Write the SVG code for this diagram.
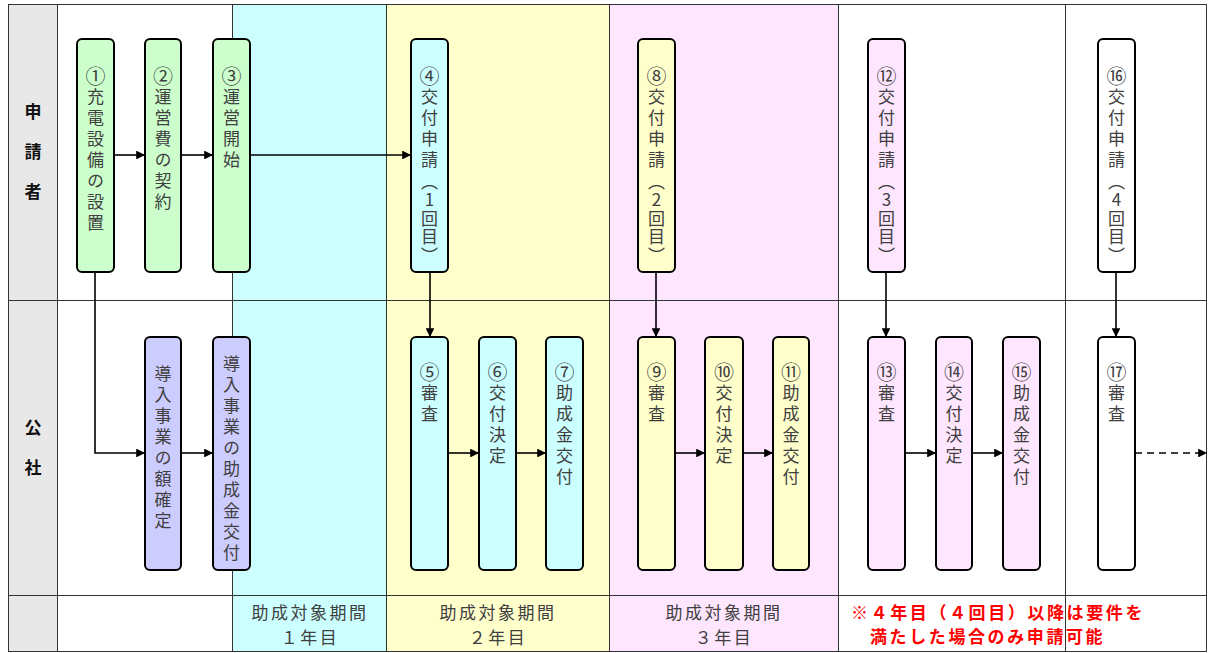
<svg xmlns="http://www.w3.org/2000/svg" width="1208" height="653" viewBox="0 0 1208 653">
<style>
.grid{stroke:#333;stroke-width:1;fill:none}
.node{stroke:#000;stroke-width:2}
.g{fill:#ccffcc}.p{fill:#ccccff}.c{fill:#ccffff}.y{fill:#ffffcc}.k{fill:#ffe6ff}.w{fill:#ffffff}
.vt{font-family:"Noto Sans CJK JP","Noto Sans",sans-serif;font-size:17px;fill:#404040;writing-mode:vertical-rl;text-orientation:upright;letter-spacing:4px}
.cn{font-size:20px;letter-spacing:2.5px}
.pr{letter-spacing:1.5px}
.lane{font-family:"Noto Sans CJK JP",sans-serif;font-size:17px;font-weight:bold;fill:#111;text-anchor:middle}
.per{font-family:"Noto Sans CJK JP",sans-serif;font-size:17px;fill:#404040;text-anchor:middle;letter-spacing:2.5px}
.note{font-family:"Noto Sans CJK JP",sans-serif;font-size:17px;font-weight:bold;fill:#ff0000;letter-spacing:2.6px}
.ln{stroke:#000;stroke-width:1.6;fill:none}
</style>
<defs>
<marker id="ah" viewBox="0 0 10 10" refX="10" refY="5" markerWidth="5.5" markerHeight="5.5" orient="auto" markerUnits="strokeWidth"><path d="M0,0 L10,5 L0,10 z" fill="#000"/></marker>
</defs>
<g id="background">
<rect x="8" y="4" width="1199" height="648" fill="#fff"/>
<rect x="8" y="4" width="49" height="648" fill="#e8e8e8"/>
<rect x="232" y="4" width="154" height="648" fill="#ccffff"/>
<rect x="386" y="4" width="223" height="648" fill="#ffffcc"/>
<rect x="609" y="4" width="229" height="648" fill="#ffe6ff"/>
</g>
<g id="grid">
<rect class="grid" x="8.5" y="4.5" width="1198" height="647"/>
<path class="grid" d="M57.5,4 V652 M232.5,4 V652 M386.5,4 V652 M609.5,4 V652 M838.5,4 V652 M1065.5,4 V652 M8,300.5 H1207 M8,595.5 H1207"/>
</g>
<g id="lanes">
<text class="lane" x="33" y="118">申</text>
<text class="lane" x="33" y="158">請</text>
<text class="lane" x="33" y="198">者</text>
<text class="lane" x="33" y="434">公</text>
<text class="lane" x="33" y="474">社</text>
</g>
<g id="connectors">
<path class="ln" d="M114,155 H145" marker-end="url(#ah)"/>
<path class="ln" d="M181,155 H213" marker-end="url(#ah)"/>
<path class="ln" d="M250,155 H411" marker-end="url(#ah)"/>
<path class="ln" d="M95,272 V453 H145" marker-end="url(#ah)"/>
<path class="ln" d="M181,453 H213" marker-end="url(#ah)"/>
<path class="ln" d="M430,272 V337" marker-end="url(#ah)"/>
<path class="ln" d="M448,453 H479" marker-end="url(#ah)"/>
<path class="ln" d="M516,453 H546" marker-end="url(#ah)"/>
<path class="ln" d="M656,272 V337" marker-end="url(#ah)"/>
<path class="ln" d="M675,453 H705" marker-end="url(#ah)"/>
<path class="ln" d="M743,453 H773" marker-end="url(#ah)"/>
<path class="ln" d="M886,272 V337" marker-end="url(#ah)"/>
<path class="ln" d="M905,453 H936" marker-end="url(#ah)"/>
<path class="ln" d="M972,453 H1003" marker-end="url(#ah)"/>
<path class="ln" d="M1116,272 V337" marker-end="url(#ah)"/>
<path class="ln" d="M1135,453 H1207" stroke-dasharray="7,5" marker-end="url(#ah)"/>
</g>
<g id="n1"><rect class="node g" x="77" y="39" width="37" height="233" rx="5"/><text class="vt" x="95.5" y="66"><tspan class="cn">①</tspan>充電設備の設置</text></g>
<g id="n2"><rect class="node g" x="145" y="39" width="36" height="233" rx="5"/><text class="vt" x="163" y="66"><tspan class="cn">②</tspan>運営費の契約</text></g>
<g id="n3"><rect class="node g" x="213" y="39" width="37" height="233" rx="5"/><text class="vt" x="231.5" y="66"><tspan class="cn">③</tspan>運営開始</text></g>
<g id="n4"><rect class="node c" x="411" y="39" width="37" height="233" rx="5"/><text class="vt" x="429.5" y="66"><tspan class="cn">④</tspan>交付申請<tspan class="pr">（1回目）</tspan></text></g>
<g id="n8"><rect class="node y" x="638" y="39" width="37" height="233" rx="5"/><text class="vt" x="656.5" y="66"><tspan class="cn">⑧</tspan>交付申請<tspan class="pr">（2回目）</tspan></text></g>
<g id="n12"><rect class="node k" x="868" y="39" width="37" height="233" rx="5"/><text class="vt" x="886.5" y="66"><tspan class="cn">⑫</tspan>交付申請<tspan class="pr">（3回目）</tspan></text></g>
<g id="n16"><rect class="node w" x="1098" y="39" width="37" height="233" rx="5"/><text class="vt" x="1116.5" y="66"><tspan class="cn">⑯</tspan>交付申請<tspan class="pr">（4回目）</tspan></text></g>
<g id="na"><rect class="node p" x="145" y="337" width="36" height="233" rx="5"/><text class="vt" x="163" y="365">導入事業の額確定</text></g>
<g id="nb"><rect class="node p" x="213" y="337" width="37" height="233" rx="5"/><text class="vt" x="231.5" y="355">導入事業の助成金交付</text></g>
<g id="n5"><rect class="node c" x="411" y="337" width="37" height="233" rx="5"/><text class="vt" x="429.5" y="362"><tspan class="cn">⑤</tspan>審査</text></g>
<g id="n6"><rect class="node c" x="479" y="337" width="37" height="233" rx="5"/><text class="vt" x="497.5" y="362"><tspan class="cn">⑥</tspan>交付決定</text></g>
<g id="n7"><rect class="node c" x="546" y="337" width="37" height="233" rx="5"/><text class="vt" x="564.5" y="362"><tspan class="cn">⑦</tspan>助成金交付</text></g>
<g id="n9"><rect class="node y" x="638" y="337" width="37" height="233" rx="5"/><text class="vt" x="656.5" y="362"><tspan class="cn">⑨</tspan>審査</text></g>
<g id="n10"><rect class="node y" x="705" y="337" width="38" height="233" rx="5"/><text class="vt" x="724" y="362"><tspan class="cn">⑩</tspan>交付決定</text></g>
<g id="n11"><rect class="node y" x="773" y="337" width="36" height="233" rx="5"/><text class="vt" x="791" y="362"><tspan class="cn">⑪</tspan>助成金交付</text></g>
<g id="n13"><rect class="node k" x="868" y="337" width="37" height="233" rx="5"/><text class="vt" x="886.5" y="362"><tspan class="cn">⑬</tspan>審査</text></g>
<g id="n14"><rect class="node k" x="936" y="337" width="36" height="233" rx="5"/><text class="vt" x="954" y="362"><tspan class="cn">⑭</tspan>交付決定</text></g>
<g id="n15"><rect class="node k" x="1003" y="337" width="37" height="233" rx="5"/><text class="vt" x="1021.5" y="362"><tspan class="cn">⑮</tspan>助成金交付</text></g>
<g id="n17"><rect class="node w" x="1098" y="337" width="37" height="233" rx="5"/><text class="vt" x="1116.5" y="362"><tspan class="cn">⑰</tspan>審査</text></g>
<g id="periods">
<text class="per" x="310" y="619">助成対象期間</text>
<text class="per" x="310" y="644">１年目</text>
<text class="per" x="498" y="619">助成対象期間</text>
<text class="per" x="498" y="644">２年目</text>
<text class="per" x="724" y="619">助成対象期間</text>
<text class="per" x="724" y="644">３年目</text>
<text class="note" x="851" y="619">※４年目（４回目）以降は要件を</text>
<text class="note" x="870" y="643">満たした場合のみ申請可能</text>
</g>
</svg>
